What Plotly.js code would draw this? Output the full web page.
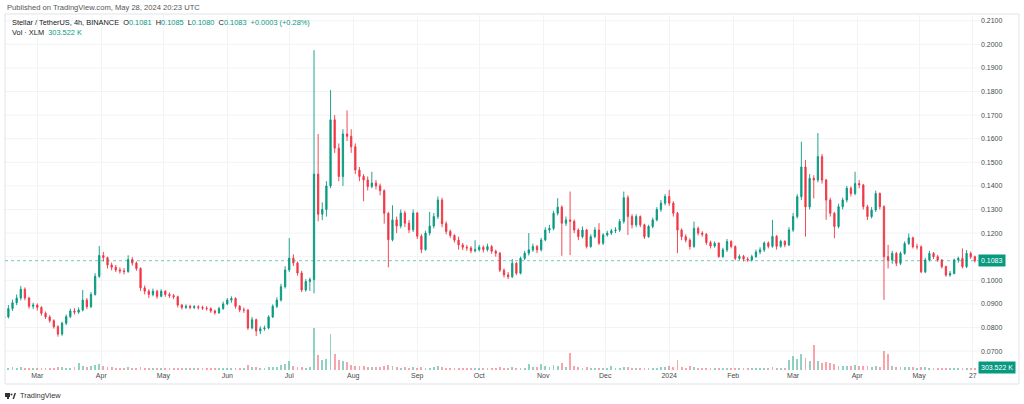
<!DOCTYPE html>
<html>
<head>
<meta charset="utf-8">
<script src="https://cdn.plot.ly/plotly-3.0.1.min.js"></script>
<style>
html,body{margin:0;padding:0;background:#fff;}
#chart{width:1024px;height:404px;}
</style>
</head>
<body>
<div id="chart"></div>
<script>
// 2-day candles, starting 2023-02-13
const startDate = '2023-02-13';
const stepDays = 2;
const firstOpen = 0.0840;
const closeVals = [
0.0845,0.0880,0.0905,0.0925,0.0962,0.0925,0.0890,0.0895,0.0885,0.0860,
0.0845,0.0829,0.0803,0.0772,0.0818,0.0846,0.0870,0.0865,0.0874,0.0916,
0.0888,0.0940,0.1017,0.1105,0.1096,0.1065,0.1055,0.1044,0.1040,0.1037,
0.1088,0.1073,0.1050,0.0968,0.0954,0.0940,0.0954,0.0932,0.0954,0.0940,
0.0935,0.0930,0.0895,0.0885,0.0890,0.0885,0.0888,0.0885,0.0882,0.0880,
0.0870,0.0862,0.0880,0.0900,0.0916,0.0923,0.0890,0.0874,0.0874,0.0798,
0.0833,0.0785,0.0795,0.0798,0.0845,0.0890,0.0916,0.0973,0.1044,0.1094,
0.1073,0.1031,0.0959,0.0995,0.1003,0.1450,0.1280,0.1300,0.1400,0.1680,
0.1560,0.1440,0.1620,0.1610,0.1566,0.1467,0.1440,0.1425,0.1397,0.1412,
0.1400,0.1380,0.1284,0.1172,0.1256,0.1230,0.1285,0.1242,0.1214,0.1285,
0.1187,0.1130,0.1200,0.1230,0.1270,0.1340,0.1240,0.1207,0.1190,0.1170,
0.1150,0.1140,0.1137,0.1125,0.1130,0.1140,0.1130,0.1143,0.1123,0.1115,
0.1043,0.1023,0.1015,0.1072,0.1030,0.1093,0.1115,0.1129,0.1143,0.1129,
0.1171,0.1213,0.1220,0.1284,0.1310,0.1242,0.1256,0.1250,0.1213,0.1185,
0.1213,0.1143,0.1185,0.1213,0.1157,0.1192,0.1200,0.1210,0.1213,0.1249,
0.1350,0.1270,0.1235,0.1270,0.1235,0.1185,0.1228,0.1256,0.1300,0.1327,
0.1355,0.1327,0.1284,0.1213,0.1185,0.1170,0.1143,0.1220,0.1200,0.1195,
0.1160,0.1145,0.1157,0.1101,0.1129,0.1164,0.1143,0.1093,0.1101,0.1090,
0.1086,0.1100,0.1120,0.1129,0.1158,0.1144,0.1186,0.1144,0.1165,0.1150,
0.1213,0.1270,0.1354,0.1480,0.1311,0.1432,0.1425,0.1524,0.1425,0.1340,
0.1284,0.1228,0.1312,0.1340,0.1390,0.1368,0.1410,0.1404,0.1312,0.1270,
0.1298,0.1368,0.1312,0.1100,0.1086,0.1114,0.1072,0.1114,0.1156,0.1180,
0.1142,0.1142,0.1036,0.1086,0.1114,0.1100,0.1086,0.1058,0.1022,0.1029,
0.1086,0.1093,0.1058,0.1114,0.1100,0.1083
];
const highVals = [
0.0860,0.0895,0.0918,0.0940,0.0976,0.0970,0.0930,0.0905,0.0902,0.0890,
0.0868,0.0852,0.0835,0.0810,0.0825,0.0855,0.0880,0.0882,0.0885,0.0959,
0.0925,0.0950,0.1030,0.1145,0.1120,0.1100,0.1075,0.1065,0.1055,0.1052,
0.1106,0.1098,0.1080,0.1055,0.0978,0.0962,0.0965,0.0960,0.0962,0.0958,
0.0948,0.0942,0.0935,0.0900,0.0898,0.0896,0.0895,0.0894,0.0892,0.0890,
0.0885,0.0876,0.0888,0.0910,0.0925,0.0932,0.0928,0.0895,0.0885,0.0878,
0.0845,0.0838,0.0805,0.0808,0.0852,0.0898,0.0928,0.0985,0.1060,0.1179,
0.1110,0.1080,0.1040,0.1005,0.1012,0.1975,0.1620,0.1330,0.1420,0.1806,
0.1700,0.1580,0.1640,0.1720,0.1640,0.1580,0.1480,0.1450,0.1440,0.1460,
0.1425,0.1410,0.1385,0.1290,0.1318,0.1270,0.1300,0.1295,0.1255,0.1300,
0.1290,0.1195,0.1210,0.1290,0.1285,0.1355,0.1350,0.1250,0.1215,0.1195,
0.1185,0.1158,0.1150,0.1145,0.1170,0.1150,0.1148,0.1155,0.1150,0.1130,
0.1120,0.1050,0.1035,0.1090,0.1078,0.1100,0.1125,0.1200,0.1155,0.1150,
0.1180,0.1225,0.1235,0.1295,0.1348,0.1318,0.1270,0.1376,0.1258,0.1220,
0.1228,0.1218,0.1195,0.1225,0.1242,0.1200,0.1210,0.1218,0.1225,0.1260,
0.1376,0.1360,0.1280,0.1280,0.1275,0.1240,0.1235,0.1265,0.1310,0.1340,
0.1365,0.1383,0.1335,0.1290,0.1220,0.1195,0.1178,0.1249,0.1228,0.1208,
0.1200,0.1168,0.1165,0.1162,0.1138,0.1175,0.1170,0.1148,0.1110,0.1108,
0.1098,0.1108,0.1130,0.1140,0.1165,0.1165,0.1256,0.1192,0.1172,0.1170,
0.1225,0.1285,0.1365,0.1587,0.1510,0.1450,0.1445,0.1624,0.1535,0.1430,
0.1350,0.1290,0.1325,0.1350,0.1400,0.1398,0.1460,0.1425,0.1408,0.1320,
0.1310,0.1380,0.1372,0.1318,0.1150,0.1125,0.1120,0.1122,0.1165,0.1198,
0.1185,0.1155,0.1148,0.1095,0.1125,0.1120,0.1108,0.1090,0.1062,0.1040,
0.1092,0.1100,0.1135,0.1128,0.1122,0.1105
];
const lowVals = [
0.0830,0.0838,0.0870,0.0895,0.0915,0.0915,0.0880,0.0878,0.0872,0.0850,
0.0836,0.0820,0.0795,0.0761,0.0765,0.0810,0.0840,0.0855,0.0858,0.0868,
0.0878,0.0882,0.0935,0.1010,0.1080,0.1050,0.1042,0.1035,0.1028,0.1025,
0.1032,0.1062,0.1040,0.0955,0.0940,0.0925,0.0932,0.0922,0.0928,0.0930,
0.0925,0.0920,0.0885,0.0876,0.0878,0.0877,0.0878,0.0876,0.0874,0.0872,
0.0862,0.0855,0.0858,0.0875,0.0895,0.0905,0.0880,0.0865,0.0862,0.0790,
0.0792,0.0764,0.0772,0.0786,0.0792,0.0840,0.0882,0.0910,0.0965,0.1035,
0.1060,0.1020,0.0950,0.0952,0.0955,0.0945,0.1250,0.1255,0.1270,0.1390,
0.1540,0.1420,0.1400,0.1590,0.1540,0.1450,0.1420,0.1335,0.1380,0.1390,
0.1385,0.1360,0.1240,0.1055,0.1165,0.1200,0.1220,0.1225,0.1200,0.1205,
0.1175,0.1115,0.1125,0.1190,0.1220,0.1260,0.1225,0.1195,0.1180,0.1160,
0.1130,0.1128,0.1125,0.1115,0.1118,0.1122,0.1118,0.1122,0.1112,0.1100,
0.1035,0.1012,0.1005,0.1010,0.1022,0.1025,0.1085,0.1105,0.1120,0.1115,
0.1122,0.1165,0.1200,0.1212,0.1275,0.1104,0.1230,0.1107,0.1200,0.1170,
0.1178,0.1135,0.1138,0.1178,0.1150,0.1150,0.1185,0.1192,0.1200,0.1205,
0.1240,0.1192,0.1220,0.1225,0.1225,0.1175,0.1180,0.1220,0.1250,0.1290,
0.1318,0.1315,0.1270,0.1115,0.1170,0.1160,0.1130,0.1138,0.1190,0.1185,
0.1150,0.1135,0.1138,0.1095,0.1095,0.1120,0.1135,0.1085,0.1085,0.1080,
0.1078,0.1080,0.1095,0.1110,0.1120,0.1135,0.1138,0.1130,0.1138,0.1140,
0.1145,0.1205,0.1262,0.1340,0.1185,0.1300,0.1347,0.1415,0.1410,0.1256,
0.1270,0.1178,0.1220,0.1300,0.1330,0.1355,0.1360,0.1390,0.1300,0.1255,
0.1262,0.1290,0.1300,0.0917,0.1050,0.1070,0.1060,0.1065,0.1108,0.1150,
0.1135,0.1130,0.1030,0.1030,0.1080,0.1090,0.1078,0.1050,0.1015,0.1015,
0.1025,0.1075,0.1050,0.1052,0.1090,0.1075
];
const volVals = [
18,20,22,18,25,20,18,16,15,18,
16,18,20,25,22,18,20,22,60,35,
25,30,40,45,35,28,22,20,18,18,
25,20,18,28,20,18,16,15,16,14,
14,15,18,16,14,14,13,14,13,14,
15,16,15,18,20,18,20,16,18,40,
25,28,20,18,22,25,28,40,45,70,
35,28,25,20,22,340,120,80,90,290,
130,80,70,65,40,35,30,30,28,25,
25,22,30,40,30,22,20,22,18,22,
20,25,18,20,22,30,22,18,16,16,
15,15,14,14,18,14,14,15,14,16,
22,20,18,22,18,20,18,48,25,22,
45,30,28,40,35,55,25,140,30,22,
20,22,18,18,20,16,15,30,15,18,
25,22,18,18,16,18,16,18,20,22,
25,35,22,80,25,20,35,22,18,16,
16,15,15,18,15,16,15,18,14,15,
14,15,16,15,18,16,25,18,16,16,
80,110,90,130,100,70,200,70,60,65,
55,45,35,30,35,30,40,30,35,30,
28,30,28,150,125,35,28,25,22,25,
22,20,28,22,18,18,16,18,20,18,
18,16,20,18,16,15
];
const monthTicks = ['2023-03-01','2023-04-01','2023-05-01','2023-06-01','2023-07-01','2023-08-01','2023-09-01','2023-10-01','2023-11-01','2023-12-01','2024-01-01','2024-02-01','2024-03-01','2024-04-01','2024-05-01','2024-05-27'];
const monthLabels = ['Mar','Apr','May','Jun','Jul','Aug','Sep','Oct','Nov','Dec','2024','Feb','Mar','Apr','May','27'];
// 0.1100 is hidden behind the last-price badge in the reference
const priceTicks = [0.07,0.08,0.09,0.10,0.12,0.13,0.14,0.15,0.16,0.17,0.18,0.19,0.20,0.21];
const gridTicks = [0.07,0.08,0.09,0.10,0.11,0.12,0.13,0.14,0.15,0.16,0.17,0.18,0.19,0.20,0.21];
const lastPrice = 0.1083;

const UP = '#089981', DN = '#F23645';
const DAY = 86400000;
const t0 = Date.parse(startDate + 'T00:00:00Z');
const dates = closeVals.map((_, i) => new Date(t0 + i * stepDays * DAY).toISOString().slice(0, 19).replace('T', ' '));
const openVals = closeVals.map((c, i) => i === 0 ? firstOpen : closeVals[i - 1]);
const volColors = closeVals.map((c, i) => c >= openVals[i] ? 'rgba(8,153,129,0.45)' : 'rgba(242,54,69,0.45)');

const font = "'Liberation Sans', Arial, sans-serif";

const L = 5, R = 980, T = 14, B = 370;
const px = x => (x - L) / (R - L);
const py = y => (B - y) / (B - T);

const traces = [
  {
    type: 'bar', x: dates, y: volVals, yaxis: 'y2',
    marker: {color: volColors, line: {width: 0}},
    width: stepDays * DAY * 0.45, hoverinfo: 'skip'
  },
  {
    type: 'candlestick', x: dates, open: openVals, high: highVals, low: lowVals, close: closeVals,
    increasing: {line: {color: UP, width: 0.9}, fillcolor: UP},
    decreasing: {line: {color: DN, width: 0.9}, fillcolor: DN},
    whiskerwidth: 0, hoverinfo: 'skip'
  }
];

const gridShapes = gridTicks.map(v => ({
  type: 'line', xref: 'paper', yref: 'y', x0: 0, x1: 1, y0: v, y1: v,
  line: {color: '#f2f3f5', width: 1}, layer: 'below'
}));

const layout = {
  width: 1024, height: 404,
  margin: {l: L, r: 1024 - R, t: T, b: 404 - B, pad: 0},
  paper_bgcolor: '#ffffff', plot_bgcolor: '#ffffff',
  showlegend: false,
  bargap: 0,
  boxgap: 0.55,
  xaxis: {
    type: 'date', range: ['2023-02-13 08:38', '2024-05-30 12:00'],
    tickvals: monthTicks, ticktext: monthLabels,
    showgrid: true, gridcolor: '#f2f3f5', gridwidth: 1,
    zeroline: false, showline: false, ticks: '',
    tickfont: {family: font, size: 7, color: '#4a4a4a'},
    rangeslider: {visible: false}, fixedrange: true
  },
  yaxis: {
    side: 'right', range: [0.06199, 0.21284],
    tickvals: priceTicks, tickformat: '.4f',
    showgrid: false,
    zeroline: false, showline: false, ticks: '',
    tickfont: {family: font, size: 7, color: '#4a4a4a'},
    fixedrange: true
  },
  yaxis2: {overlaying: 'y', range: [0, 2848], visible: false, fixedrange: true},
  shapes: gridShapes.concat([
    {type: 'rect', xref: 'paper', yref: 'paper', x0: 0, x1: px(1019), y0: py(384), y1: 1,
     line: {color: '#e0e3eb', width: 1}, fillcolor: 'rgba(0,0,0,0)', layer: 'below'},
    {type: 'line', xref: 'paper', yref: 'y', x0: 0, x1: 1, y0: lastPrice, y1: lastPrice,
     line: {color: 'rgba(8,153,129,0.55)', width: 1, dash: 'dot'}},
    // TradingView logo mark
    {type: 'rect', xref: 'paper', yref: 'paper', x0: px(5), x1: px(10), y0: py(397), y1: py(393),
     line: {width: 0}, fillcolor: '#333333'},
    {type: 'rect', xref: 'paper', yref: 'paper', x0: px(7), x1: px(9), y0: py(399), y1: py(393),
     line: {width: 0}, fillcolor: '#333333'},
    {type: 'circle', xref: 'paper', yref: 'paper', x0: px(10.5), x1: px(12.5), y0: py(395.5), y1: py(393.5),
     line: {width: 0}, fillcolor: '#333333'},
    {type: 'path', xref: 'paper', yref: 'paper',
     path: 'M' + px(12.5) + ',' + py(399) + ' L' + px(14.5) + ',' + py(393) + ' L' + px(16) + ',' + py(393) + ' L' + px(14) + ',' + py(399) + ' Z',
     line: {width: 0}, fillcolor: '#333333'}
  ]),
  annotations: [
    {xref: 'paper', yref: 'paper', x: 0, y: py(7), xanchor: 'left', yanchor: 'middle', showarrow: false,
     text: 'Published on TradingView.com, May 28, 2024 20:23 UTC',
     font: {family: font, size: 7.6, color: '#555555'}},
    {xref: 'paper', yref: 'paper', x: px(10), y: py(22), xanchor: 'left', yanchor: 'middle', showarrow: false,
     text: 'Stellar / TetherUS, 4h, BINANCE  O<span style="color:#089981">0.1081</span>  H<span style="color:#089981">0.1085</span>  L<span style="color:#089981">0.1080</span>  C<span style="color:#089981">0.1083</span>  <span style="color:#089981">+0.0003 (+0.28%)</span>',
     font: {family: font, size: 7.4, color: '#131722'}},
    {xref: 'paper', yref: 'paper', x: px(10), y: py(32), xanchor: 'left', yanchor: 'middle', showarrow: false,
     text: 'Vol · XLM  <span style="color:#089981">303.522 K</span>',
     font: {family: font, size: 7.4, color: '#131722'}},
    {xref: 'paper', yref: 'y', x: px(978), y: lastPrice, xanchor: 'left', yanchor: 'middle', showarrow: false,
     text: '0.1083', bgcolor: '#089981', borderpad: 2,
     font: {family: font, size: 7, color: '#ffffff'}},
    {xref: 'paper', yref: 'paper', x: px(978), y: py(367), xanchor: 'left', yanchor: 'middle', showarrow: false,
     text: '303.522 K', bgcolor: '#089981', borderpad: 2,
     font: {family: font, size: 7, color: '#ffffff'}},
    {xref: 'paper', yref: 'paper', x: px(18), y: py(395), xanchor: 'left', yanchor: 'middle', showarrow: false,
     text: 'TradingView',
     font: {family: font, size: 7.4, color: '#333333'}}
  ]
};

Plotly.newPlot('chart', traces, layout, {staticPlot: true, displayModeBar: false});
</script>
</body>
</html>
